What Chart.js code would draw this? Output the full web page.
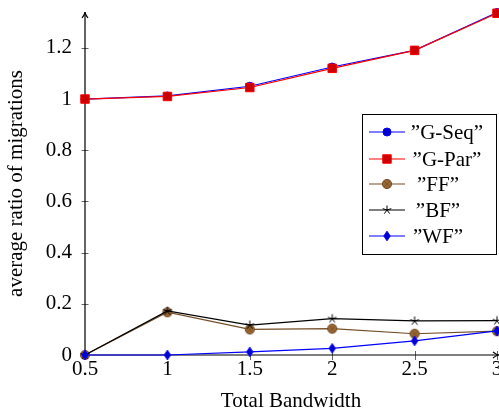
<!DOCTYPE html>
<html>
<head>
<meta charset="utf-8">
<script src="https://cdn.jsdelivr.net/npm/chart.js@4.4.0/dist/chart.umd.min.js"></script>
<style>
  html, body { margin: 0; padding: 0; overflow: hidden; background: #fff; }
  #wrap { width: 520px; height: 411px; }
</style>
</head>
<body>
<div id="wrap"><canvas id="migrations"></canvas></div>
<script>
const bandwidth = [0.5, 1, 1.5, 2, 2.5, 3];
const gSeq = [1.0, 1.012, 1.05, 1.125, 1.19, 1.338];
const gPar = [1.0, 1.01, 1.045, 1.12, 1.19, 1.335];
const ff = [0, 0.167, 0.1, 0.103, 0.083, 0.093];
const bf = [0, 0.172, 0.117, 0.142, 0.133, 0.134];
const wf = [0, 0, 0.012, 0.026, 0.055, 0.094];

const xTickValues = [0.5, 1, 1.5, 2, 2.5, 3];
const xTickLabels = ["0.5", "1", "1.5", "2", "2.5", "3"];
const yTickValues = [0, 0.2, 0.4, 0.6, 0.8, 1, 1.2];
const yTickLabels = ["0", "0.2", "0.4", "0.6", "0.8", "1", "1.2"];
const seriesNames = ["\u201DG-Seq\u201D", "\u201DG-Par\u201D", "\u201DFF\u201D", "\u201DBF\u201D", "\u201DWF\u201D"];

const serif = "'Liberation Serif', 'DejaVu Serif', serif";
Chart.defaults.font.family = serif;
Chart.defaults.font.size = 21;
Chart.defaults.color = "#000";

// pgfplots style marks
const makeMark = (w, h, draw) => {
  const c = document.createElement("canvas");
  c.width = w;
  c.height = h;
  draw(c.getContext("2d"), w / 2, h / 2);
  return c;
};

const otimesMark = makeMark(12, 12, (ctx, cx, cy) => {
  ctx.beginPath();
  ctx.arc(cx, cy, 4.6, 0, Math.PI * 2);
  ctx.fillStyle = "#996633";
  ctx.fill();
  ctx.lineWidth = 1;
  ctx.strokeStyle = "#734D26";
  ctx.stroke();
  const d = 4.6 * Math.SQRT1_2;
  ctx.beginPath();
  ctx.moveTo(cx - d, cy - d); ctx.lineTo(cx + d, cy + d);
  ctx.moveTo(cx + d, cy - d); ctx.lineTo(cx - d, cy + d);
  ctx.lineWidth = 0.7;
  ctx.stroke();
});

const starMark = makeMark(12, 12, (ctx, cx, cy) => {
  ctx.beginPath();
  for (let k = 0; k < 5; k++) {
    const a = -Math.PI / 2 + (k * 2 * Math.PI) / 5;
    ctx.moveTo(cx, cy);
    ctx.lineTo(cx + 4.5 * Math.cos(a), cy + 4.5 * Math.sin(a));
  }
  ctx.strokeStyle = "#000";
  ctx.lineWidth = 1;
  ctx.stroke();
});

const diamondMark = makeMark(10, 12, (ctx, cx, cy) => {
  ctx.beginPath();
  ctx.moveTo(cx, cy - 4.8);
  ctx.lineTo(cx + 3.2, cy);
  ctx.lineTo(cx, cy + 4.8);
  ctx.lineTo(cx - 3.2, cy);
  ctx.closePath();
  ctx.fillStyle = "#0000CC";
  ctx.fill();
  ctx.strokeStyle = "#0000FF";
  ctx.lineWidth = 1;
  ctx.stroke();
});

const toPoints = (ys) => bandwidth.map((x, i) => ({ x, y: ys[i] }));

const datasets = [
  {
    label: seriesNames[0], data: toPoints(gSeq), order: 5,
    borderColor: "#0000FF", pointStyle: "circle", pointRadius: 4,
    pointBackgroundColor: "#0000CC", pointBorderColor: "#0000FF",
  },
  {
    label: seriesNames[1], data: toPoints(gPar), order: 4,
    borderColor: "#FF0000", pointStyle: "rect", pointRadius: 6,
    pointBackgroundColor: "#CC0000", pointBorderColor: "#FF0000",
  },
  {
    label: seriesNames[2], data: toPoints(ff), order: 3,
    borderColor: "#734D26", pointStyle: otimesMark, pointRadius: 5,
  },
  {
    label: seriesNames[3], data: toPoints(bf), order: 2,
    borderColor: "#000000", pointStyle: starMark, pointRadius: 5,
  },
  {
    label: seriesNames[4], data: toPoints(wf), order: 1,
    borderColor: "#0000FF", pointStyle: diamondMark, pointRadius: 5,
  },
].map((d) => ({ ...d, borderWidth: 1.2, pointBorderWidth: 1, tension: 0, clip: false }));

const drawArrow = (ctx, x, y, dx, dy) => {
  const len = 6, half = 3;
  const px = -dy, py = dx;
  ctx.beginPath();
  ctx.moveTo(x - dx * len + px * half, y - dy * len + py * half);
  ctx.quadraticCurveTo(x - dx * 2, y - dy * 2, x, y);
  ctx.quadraticCurveTo(x - dx * 2, y - dy * 2, x - dx * len - px * half, y - dy * len - py * half);
  ctx.stroke();
};

const axesPlugin = {
  id: "pgfAxes",
  beforeDatasetsDraw(chart) {
    const { ctx, chartArea: a, scales: { x, y } } = chart;
    ctx.save();
    ctx.strokeStyle = "#666";
    ctx.lineWidth = 1;
    ctx.beginPath();
    y.ticks.forEach((t) => {
      const py = Math.round(y.getPixelForValue(t.value)) + 0.5;
      ctx.moveTo(a.left - 3.5, py);
      ctx.lineTo(a.left + 3.5, py);
    });
    x.ticks.forEach((t) => {
      const px = Math.round(x.getPixelForValue(t.value)) + 0.5;
      ctx.moveTo(px, a.bottom - 4);
      ctx.lineTo(px, a.bottom + 5);
    });
    ctx.stroke();

    ctx.strokeStyle = "#000";
    ctx.lineWidth = 1.2;
    ctx.beginPath();
    ctx.moveTo(a.left, a.bottom);
    ctx.lineTo(a.left, a.top);
    ctx.moveTo(a.left, a.bottom);
    ctx.lineTo(a.right + 2, a.bottom);
    ctx.stroke();
    drawArrow(ctx, a.left, a.top, 0, -1);
    drawArrow(ctx, a.right + 2, a.bottom, 1, 0);
    ctx.restore();
  },
};

const legendPlugin = {
  id: "pgfLegend",
  afterDraw(chart) {
    const { ctx } = chart;
    const box = { x: 362.5, y: 114.5, w: 134, h: 140 };
    const rows = [132, 159, 184, 210, 236];
    const textCenters = [447, 447, 438, 438, 438];
    ctx.save();
    ctx.fillStyle = "#fff";
    ctx.fillRect(box.x, box.y, box.w, box.h);
    ctx.strokeStyle = "#000";
    ctx.lineWidth = 1;
    ctx.strokeRect(box.x, box.y, box.w, box.h);
    chart.data.datasets.forEach((ds, i) => {
      const yy = rows[i];
      ctx.strokeStyle = ds.borderColor;
      ctx.lineWidth = 1.2;
      ctx.beginPath();
      ctx.moveTo(369, yy);
      ctx.lineTo(405, yy);
      ctx.stroke();
      const ps = ds.pointStyle;
      if (ps instanceof HTMLCanvasElement) {
        ctx.drawImage(ps, 387 - ps.width / 2, yy - ps.height / 2);
      } else {
        ctx.fillStyle = ds.pointBackgroundColor;
        ctx.strokeStyle = ds.pointBorderColor;
        ctx.lineWidth = 1;
        ctx.beginPath();
        if (ps === "circle") {
          ctx.arc(387, yy, ds.pointRadius, 0, Math.PI * 2);
        } else {
          const s = ds.pointRadius * Math.SQRT1_2;
          ctx.rect(387 - s, yy - s, 2 * s, 2 * s);
        }
        ctx.fill();
        ctx.stroke();
      }
      ctx.fillStyle = "#000";
      ctx.font = "21px " + serif;
      ctx.textAlign = "center";
      ctx.textBaseline = "middle";
      ctx.fillText(ds.label, textCenters[i], yy + 1);
    });
    ctx.restore();
  },
};

new Chart(document.getElementById("migrations"), {
  type: "line",
  data: { datasets },
  plugins: [axesPlugin, legendPlugin],
  options: {
    responsive: true,
    maintainAspectRatio: false,
    animation: false,
    events: [],
    layout: { padding: { top: 12, right: 23, left: 0, bottom: 0 } },
    plugins: { legend: { display: false }, tooltip: { enabled: false } },
    scales: {
      x: {
        type: "linear",
        min: 0.5,
        max: 3,
        afterBuildTicks: (scale) => { scale.ticks = xTickValues.map((value) => ({ value })); },
        afterFit: (scale) => { scale.height = 56; scale.paddingLeft = 0; scale.paddingRight = 0; },
        ticks: { padding: 2, callback: (v, i) => xTickLabels[i] },
        grid: { display: false, drawTicks: false },
        border: { display: false },
        title: {
          display: true,
          text: "Total Bandwidth",
          font: { size: 21, lineHeight: 1 },
          padding: { top: 0, bottom: -1 },
        },
      },
      y: {
        type: "linear",
        min: 0,
        max: 1.34,
        afterBuildTicks: (scale) => { scale.ticks = yTickValues.map((value) => ({ value })); },
        afterFit: (scale) => { scale.width = 85; scale.paddingTop = 0; scale.paddingBottom = 0; },
        ticks: { padding: 13, callback: (v, i) => yTickLabels[i] },
        grid: { display: false, drawTicks: false },
        border: { display: false },
        title: {
          display: true,
          text: "average ratio of migrations",
          font: { size: 21, lineHeight: 1 },
          padding: { top: 6, bottom: 0 },
        },
      },
    },
  },
});
</script>
</body>
</html>
